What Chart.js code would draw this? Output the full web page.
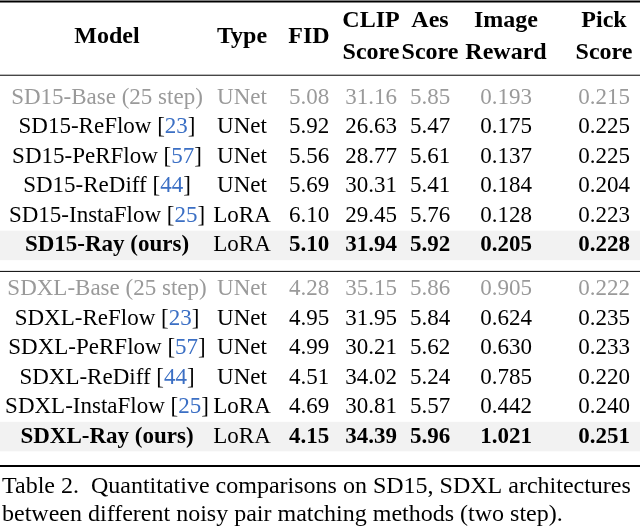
<!DOCTYPE html>
<html><head><meta charset="utf-8">
<script src="https://cdn.jsdelivr.net/npm/chart.js@4/dist/chart.umd.min.js"></script>
<style>html,body{margin:0;padding:0;background:#fff}#w{width:640px;height:529px}</style>
</head><body><div id="w"><canvas id="c"></canvas></div>
<script>
const headers1 = ["Model","Type","FID","CLIP","Aes","Image","Pick"];
const headers2 = ["","","","Score","Score","Reward","Score"];
const models = [["SD15-Base (25 step)",""],["SD15-ReFlow ","[23]"],["SD15-PeRFlow ","[57]"],["SD15-ReDiff ","[44]"],["SD15-InstaFlow ","[25]"],["SD15-Ray (ours)",""],
 ["SDXL-Base (25 step)",""],["SDXL-ReFlow ","[23]"],["SDXL-PeRFlow ","[57]"],["SDXL-ReDiff ","[44]"],["SDXL-InstaFlow ","[25]"],["SDXL-Ray (ours)",""]];
const types = ["UNet","UNet","UNet","UNet","LoRA","LoRA","UNet","UNet","UNet","UNet","LoRA","LoRA"];
const fid = ["5.08","5.92","5.56","5.69","6.10","5.10","4.28","4.95","4.99","4.51","4.69","4.15"];
const clip = ["31.16","26.63","28.77","30.31","29.45","31.94","35.15","31.95","30.21","34.02","30.81","34.39"];
const aes = ["5.85","5.47","5.61","5.41","5.76","5.92","5.86","5.84","5.62","5.24","5.57","5.96"];
const reward = ["0.193","0.175","0.137","0.184","0.128","0.205","0.905","0.624","0.630","0.785","0.442","1.021"];
const pick = ["0.215","0.225","0.225","0.204","0.223","0.228","0.222","0.235","0.233","0.220","0.240","0.251"];
const rowKind = ["base","n","n","n","n","ours","base","n","n","n","n","ours"];
const rowY = [3.32,4.32,5.32,6.32,7.32,8.32,9.8,10.8,11.8,12.8,13.8,14.8];
const colX = [107,242,309,371,430,506,604];
const caption = ["Table 2.  Quantitative comparisons on SD15, SDXL architectures","between different noisy pair matching methods (two step)."];
const F = "'Liberation Serif','Times New Roman',serif";

const tablePlugin = {id:'tbl', afterDatasetsDraw(chart){
  const ctx=chart.ctx, xs=chart.scales.x, ys=chart.scales.y;
  const X=v=>xs.getPixelForValue(v), Y=v=>ys.getPixelForValue(v);
  ctx.save();
  ctx.fillStyle='#f2f2f2';
  rowY.forEach((r,i)=>{ if(rowKind[i]==='ours'){ctx.fillRect(X(0),Y(r-0.5),X(640)-X(0),Y(r+0.5)-Y(r-0.5));}});
  ctx.strokeStyle='#000';
  [[0.05,2],[2.55,1],[9.2,1],[15.8,2]].forEach(([v,w])=>{ctx.lineWidth=w;ctx.beginPath();ctx.moveTo(X(0),Y(v));ctx.lineTo(X(640),Y(v));ctx.stroke();});
  ctx.textBaseline='middle'; ctx.textAlign='center'; ctx.fillStyle='#000';
  ctx.font='bold 24px '+F;
  headers1.forEach((h,i)=>{ if(headers2[i]) { ctx.fillText(h,X(colX[i]),Y(0.72)); ctx.fillText(headers2[i],X(colX[i]),Y(1.78)); } else ctx.fillText(h,X(colX[i]),Y(1.25)); });
  const cols=[types,fid,clip,aes,reward,pick];
  rowY.forEach((r,i)=>{
    const k=rowKind[i];
    ctx.font=(k==='ours'?'bold ':'')+'23px '+F;
    const col=k==='base'?'#9a9a9a':'#000';
    const [m,c]=models[i];
    const wm=ctx.measureText(m).width, wc=ctx.measureText(c).width, x0=X(colX[0])-(wm+wc)/2;
    ctx.textAlign='left'; ctx.fillStyle=col; ctx.fillText(m,x0,Y(r));
    ctx.fillStyle='#000'; if(c){ctx.fillText('[',x0+wm,Y(r)); const wb=ctx.measureText('[').width, wn=ctx.measureText(c.slice(1,-1)).width;
      ctx.fillStyle='#3b6fc4'; ctx.fillText(c.slice(1,-1),x0+wm+wb,Y(r)); ctx.fillStyle='#000'; ctx.fillText(']',x0+wm+wb+wn,Y(r));}
    ctx.textAlign='center';
    cols.forEach((arr,j)=>{ ctx.fillStyle=col; ctx.font=((k==='ours'&&j>0)?'bold ':'')+'23px '+F; ctx.fillText(arr[i],X(colX[j+1]),Y(r)); });
  });
  ctx.font='24px '+F; ctx.textAlign='left'; ctx.fillStyle='#000';
  ctx.fillText(caption[0],X(2),Y(16.5)); ctx.fillText(caption[1],X(2),Y(17.46));
  ctx.restore();
}};
new Chart(document.getElementById('c'),{type:'scatter',
  data:{datasets:[{data:rowY.map(r=>({x:colX[0],y:r})),pointRadius:0}]},
  options:{responsive:true,maintainAspectRatio:false,animation:false,
    layout:{padding:0},plugins:{legend:{display:false},tooltip:{enabled:false}},
    scales:{x:{type:'linear',min:0,max:640,display:false},y:{type:'linear',min:0,max:529/29.5,reverse:true,display:false}}},
  plugins:[tablePlugin]});
</script></body></html>
